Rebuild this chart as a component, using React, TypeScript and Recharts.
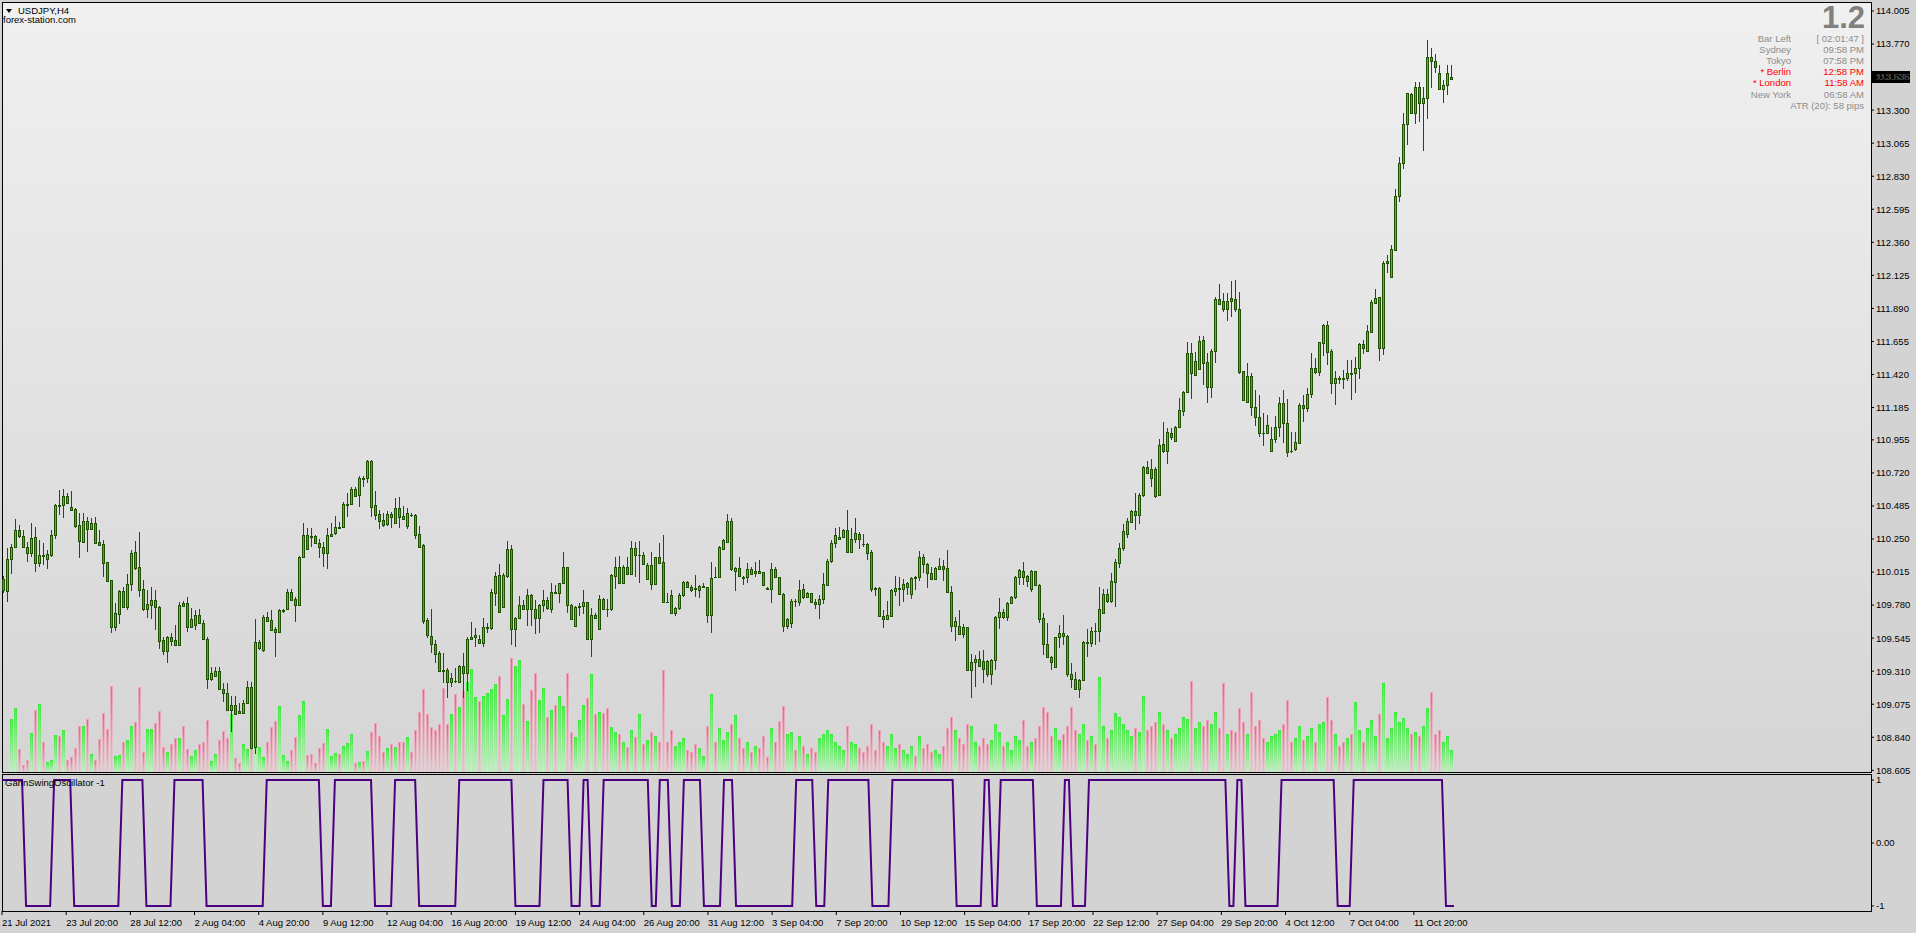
import React from "react";
import { ComposedChart, Bar, Line, XAxis, YAxis, ReferenceLine } from "recharts";

/* ------------------------------------------------------------------ */
/* Data (USDJPY, H4) */
/* ------------------------------------------------------------------ */

const opens = [
  109.966, 109.883, 110.106, 110.191, 110.312, 110.274, 110.191, 110.149, 110.262, 110.078,
  110.134, 110.111, 110.139, 110.277, 110.49, 110.49, 110.556, 110.476, 110.461, 110.348,
  110.229, 110.376, 110.324, 110.362, 110.229, 110.213, 110.085, 109.959, 109.622, 109.715,
  109.878, 109.769, 109.928, 110.158, 110.049, 109.893, 109.75, 109.784, 109.814, 109.765,
  109.532, 109.452, 109.551, 109.532, 109.499, 109.793, 109.793, 109.627, 109.637, 109.708,
  109.651, 109.537, 109.253, 109.279, 109.312, 109.184, 109.153, 109.035, 109.068, 109.028,
  109.016, 109.082, 109.196, 108.769, 109.473, 109.461, 109.698, 109.675, 109.611, 109.592,
  109.738, 109.75, 109.876, 109.824, 109.781, 110.12, 110.279, 110.272, 110.272, 110.219,
  110.196, 110.148, 110.272, 110.29, 110.333, 110.333, 110.49, 110.497, 110.603, 110.561,
  110.682, 110.682, 110.805, 110.49, 110.426, 110.385, 110.357, 110.428, 110.362, 110.468,
  110.414, 110.343, 110.421, 110.421, 110.286, 110.208, 109.674, 109.561, 109.504, 109.442,
  109.319, 109.319, 109.236, 109.241, 109.236, 109.347, 109.3, 109.537, 109.551, 109.539,
  109.513, 109.62, 109.62, 109.869, 109.992, 109.764, 109.987, 110.177, 109.608, 109.686,
  109.781, 109.755, 109.85, 109.75, 109.686, 109.779, 109.817, 109.75, 109.871, 109.864,
  109.94, 110.049, 109.779, 109.632, 109.764, 109.776, 109.8, 109.537, 109.71, 109.608,
  109.821, 109.755, 109.75, 109.987, 110.054, 109.94, 110.049, 109.999, 110.184, 110.136,
  110.136, 109.963, 110.063, 109.928, 110.12, 110.087, 109.805, 109.852, 109.726, 109.757,
  109.852, 109.942, 109.909, 109.899, 109.888, 109.907, 109.907, 109.712, 109.982, 109.978,
  110.181, 110.231, 110.378, 110.025, 110.042, 109.982, 109.978, 110.035, 110.011, 110.025,
  110.013, 109.899, 109.892, 110.035, 109.978, 109.859, 109.632, 109.651, 109.812, 109.805,
  109.892, 109.84, 109.864, 109.802, 109.785, 109.821, 109.923, 110.091, 110.219, 110.248,
  110.262, 110.314, 110.16, 110.248, 110.286, 110.217, 110.217, 110.158, 109.899, 109.899,
  109.705, 109.684, 109.703, 109.883, 109.899, 109.892, 109.906, 109.857, 109.977, 109.977,
  110.12, 110.07, 110.006, 109.963, 110.039, 110.06, 110.041, 109.876, 109.634, 109.631,
  109.622, 109.622, 109.319, 109.373, 109.394, 109.385, 109.385, 109.288, 109.39, 109.693,
  109.733, 109.693, 109.797, 109.835, 109.982, 110.025, 109.987, 109.892, 110.02, 109.923,
  109.686, 109.501, 109.409, 109.338, 109.551, 109.579, 109.56, 109.288, 109.252, 109.184,
  109.247, 109.52, 109.508, 109.598, 109.598, 109.721, 109.857, 109.812, 109.947, 110.082,
  110.184, 110.286, 110.373, 110.447, 110.421, 110.56, 110.76, 110.745, 110.745, 110.56,
  110.925, 110.878, 111.001, 110.949, 111.044, 111.162, 111.298, 111.571, 111.419, 111.457,
  111.666, 111.51, 111.329, 111.585, 111.955, 111.941, 111.889, 111.962, 111.955, 111.884,
  111.443, 111.227, 111.41, 111.187, 111.121, 111.007, 111.007, 110.879, 110.96, 111.05,
  111.216, 111.078, 110.879, 110.891, 110.936, 111.204, 111.18, 111.282, 111.465, 111.441,
  111.647, 111.773, 111.588, 111.358, 111.393, 111.393, 111.393, 111.429, 111.429, 111.465,
  111.635, 111.59, 111.725, 111.931, 111.969, 111.607, 112.211, 112.116, 112.306, 112.69,
  112.922, 113.202, 113.415, 113.277, 113.462, 113.349, 113.384, 113.676, 113.647, 113.567,
  113.448, 113.476, 113.52,
];

const highs = [
  109.987, 110.184, 110.215, 110.39, 110.35, 110.315, 110.232, 110.367, 110.338, 110.243,
  110.22, 110.172, 110.315, 110.499, 110.599, 110.604, 110.575, 110.589, 110.469, 110.433,
  110.433, 110.409, 110.397, 110.405, 110.315, 110.243, 110.089, 109.962, 109.793, 109.888,
  109.907, 110.002, 110.172, 110.236, 110.303, 109.959, 109.888, 109.907, 109.888, 109.774,
  109.556, 109.561, 109.58, 109.639, 109.805, 109.812, 109.836, 109.758, 109.746, 109.75,
  109.675, 109.556, 109.343, 109.343, 109.343, 109.224, 109.224, 109.134, 109.134, 109.082,
  109.106, 109.241, 109.236, 109.679, 109.532, 109.71, 109.734, 109.746, 109.627, 109.75,
  109.75, 109.897, 109.897, 109.84, 110.129, 110.366, 110.326, 110.331, 110.276, 110.248,
  110.231, 110.326, 110.362, 110.414, 110.373, 110.516, 110.575, 110.618, 110.618, 110.698,
  110.698, 110.812, 110.812, 110.594, 110.456, 110.433, 110.452, 110.445, 110.539, 110.551,
  110.485, 110.468, 110.437, 110.428, 110.343, 110.212, 109.686, 109.75, 109.532, 109.456,
  109.442, 109.331, 109.295, 109.331, 109.354, 109.437, 109.556, 109.662, 109.615, 109.568,
  109.686, 109.651, 109.892, 110.018, 110.072, 110.006, 110.236, 110.208, 109.698, 109.845,
  109.817, 109.892, 109.859, 109.817, 109.788, 109.888, 109.836, 109.94, 109.923, 109.94,
  110.16, 110.054, 109.788, 109.774, 109.797, 109.888, 109.805, 109.76, 109.722, 109.852,
  109.828, 109.821, 109.999, 110.12, 110.129, 110.065, 110.12, 110.236, 110.231, 110.238,
  110.16, 110.077, 110.16, 110.125, 110.219, 110.279, 109.864, 109.888, 109.769, 109.864,
  109.954, 109.954, 109.923, 109.994, 109.923, 109.935, 109.911, 110.089, 110.054, 110.2,
  110.248, 110.426, 110.397, 110.054, 110.125, 109.987, 110.082, 110.054, 110.089, 110.101,
  110.018, 109.907, 110.077, 110.049, 109.982, 109.864, 109.686, 109.821, 109.821, 109.959,
  109.93, 109.876, 109.868, 109.821, 109.852, 110.006, 110.105, 110.243, 110.326, 110.338,
  110.319, 110.456, 110.326, 110.397, 110.302, 110.286, 110.224, 110.172, 109.911, 109.906,
  109.745, 109.809, 109.892, 109.987, 109.982, 109.963, 109.947, 109.977, 109.987, 110.167,
  110.141, 110.077, 110.049, 110.049, 110.113, 110.101, 110.172, 109.916, 109.698, 109.745,
  109.646, 109.627, 109.43, 109.425, 109.454, 109.461, 109.39, 109.394, 109.703, 109.833,
  109.75, 109.804, 109.845, 109.987, 110.034, 110.086, 109.994, 110.03, 110.025, 109.93,
  109.721, 109.655, 109.418, 109.556, 109.639, 109.71, 109.568, 109.366, 109.307, 109.252,
  109.527, 109.608, 109.627, 109.65, 109.906, 109.892, 109.892, 110.006, 110.105, 110.219,
  110.357, 110.397, 110.456, 110.579, 110.575, 110.769, 110.807, 110.816, 110.76, 110.963,
  111.082, 111.042, 111.042, 111.053, 111.25, 111.305, 111.652, 111.647, 111.583, 111.694,
  111.694, 111.571, 111.6, 111.974, 112.064, 112.002, 111.998, 112.088, 112.092, 112.009,
  111.448, 111.5, 111.429, 111.31, 111.275, 111.149, 111.133, 111.05, 111.126, 111.263,
  111.31, 111.244, 111.014, 111.014, 111.22, 111.275, 111.322, 111.571, 111.536, 111.654,
  111.78, 111.801, 111.602, 111.448, 111.41, 111.453, 111.524, 111.524, 111.547, 111.642,
  111.666, 111.773, 111.95, 112.026, 111.974, 112.228, 112.27, 112.341, 112.737, 112.969,
  113.277, 113.424, 113.42, 113.503, 113.503, 113.467, 113.799, 113.74, 113.699, 113.621,
  113.514, 113.621, 113.621,
];

const lows = [
  109.864, 109.805, 110.002, 110.184, 110.26, 110.184, 110.089, 110.125, 110.018, 110.049,
  110.066, 110.04, 110.12, 110.248, 110.421, 110.397, 110.499, 110.452, 110.326, 110.118,
  110.224, 110.16, 110.319, 110.22, 110.205, 109.983, 109.947, 109.585, 109.599, 109.646,
  109.758, 109.746, 109.881, 110.03, 109.841, 109.741, 109.686, 109.679, 109.604, 109.466,
  109.426, 109.367, 109.492, 109.49, 109.497, 109.769, 109.592, 109.615, 109.604, 109.646,
  109.532, 109.182, 109.243, 109.272, 109.177, 109.094, 109.03, 108.874, 108.999, 109.011,
  109.006, 109.075, 108.755, 108.722, 109.461, 109.449, 109.663, 109.599, 109.409, 109.587,
  109.726, 109.745, 109.812, 109.663, 109.779, 110.113, 110.172, 110.196, 110.215, 110.113,
  110.049, 110.035, 110.262, 110.279, 110.319, 110.326, 110.409, 110.49, 110.551, 110.475,
  110.618, 110.646, 110.404, 110.385, 110.319, 110.338, 110.343, 110.326, 110.357, 110.326,
  110.385, 110.319, 110.409, 110.248, 110.191, 109.646, 109.544, 109.437, 109.371, 109.307,
  109.224, 109.117, 109.196, 109.224, 109.229, 109.117, 109.172, 109.532, 109.485, 109.504,
  109.48, 109.584, 109.603, 109.774, 109.729, 109.757, 109.971, 109.497, 109.485, 109.679,
  109.75, 109.632, 109.632, 109.575, 109.584, 109.734, 109.745, 109.722, 109.859, 109.793,
  109.935, 109.726, 109.674, 109.627, 109.703, 109.717, 109.532, 109.414, 109.679, 109.603,
  109.745, 109.693, 109.741, 109.892, 109.93, 109.935, 109.994, 109.994, 109.982, 109.94,
  110.065, 109.959, 109.888, 109.923, 110.077, 109.8, 109.793, 109.717, 109.703, 109.745,
  109.84, 109.899, 109.876, 109.84, 109.833, 109.899, 109.651, 109.584, 109.971, 109.971,
  110.172, 110.224, 110.025, 109.883, 109.982, 109.923, 109.935, 109.997, 109.982, 110.001,
  109.916, 109.888, 109.798, 109.971, 109.852, 109.591, 109.608, 109.615, 109.764, 109.774,
  109.821, 109.828, 109.797, 109.75, 109.684, 109.785, 109.916, 110.077, 110.184, 110.243,
  110.255, 110.148, 110.155, 110.224, 110.177, 110.195, 110.101, 109.876, 109.845, 109.698,
  109.62, 109.679, 109.698, 109.845, 109.774, 109.804, 109.852, 109.821, 109.887, 109.954,
  110.011, 109.899, 109.959, 109.959, 110.034, 109.954, 109.868, 109.591, 109.527, 109.567,
  109.544, 109.314, 109.117, 109.2, 109.342, 109.224, 109.271, 109.209, 109.319, 109.608,
  109.679, 109.669, 109.793, 109.821, 109.923, 109.923, 109.911, 109.876, 109.916, 109.655,
  109.425, 109.402, 109.319, 109.333, 109.477, 109.496, 109.266, 109.188, 109.176, 109.117,
  109.243, 109.413, 109.48, 109.496, 109.52, 109.717, 109.797, 109.797, 109.764, 110.046,
  110.167, 110.259, 110.366, 110.314, 110.357, 110.551, 110.717, 110.622, 110.544, 110.556,
  110.864, 110.783, 110.954, 110.942, 111.037, 111.125, 111.291, 111.244, 111.417, 111.453,
  111.346, 111.216, 111.251, 111.505, 111.915, 111.867, 111.803, 111.827, 111.867, 111.422,
  111.235, 111.22, 111.126, 111.054, 110.974, 110.912, 110.998, 110.872, 110.936, 110.974,
  110.931, 110.832, 110.86, 110.879, 110.931, 111.085, 111.156, 111.251, 111.424, 111.41,
  111.552, 111.488, 111.282, 111.204, 111.353, 111.315, 111.377, 111.235, 111.291, 111.389,
  111.566, 111.583, 111.718, 111.922, 111.519, 111.559, 112.145, 112.111, 112.301, 112.649,
  112.879, 113.052, 113.273, 113.202, 113.218, 113.012, 113.237, 113.455, 113.567, 113.443,
  113.353, 113.408, 113.515,
];

const closes = [
  109.888, 110.106, 110.191, 110.312, 110.274, 110.191, 110.149, 110.255, 110.078, 110.134,
  110.131, 110.144, 110.277, 110.49, 110.488, 110.556, 110.509, 110.459, 110.345, 110.234,
  110.376, 110.324, 110.362, 110.224, 110.21, 110.078, 109.954, 109.627, 109.722, 109.878,
  109.769, 109.928, 110.149, 110.044, 109.888, 109.75, 109.786, 109.814, 109.765, 109.528,
  109.452, 109.551, 109.528, 109.499, 109.779, 109.776, 109.622, 109.679, 109.708, 109.656,
  109.537, 109.253, 109.295, 109.312, 109.182, 109.153, 109.035, 109.07, 109.004, 109.016,
  109.085, 109.196, 108.762, 109.52, 109.52, 109.698, 109.67, 109.604, 109.592, 109.746,
  109.745, 109.876, 109.817, 109.781, 110.125, 110.279, 110.177, 110.267, 110.219, 110.196,
  110.148, 110.279, 110.286, 110.333, 110.331, 110.499, 110.497, 110.603, 110.556, 110.682,
  110.679, 110.805, 110.48, 110.418, 110.381, 110.352, 110.428, 110.409, 110.468, 110.409,
  110.39, 110.433, 110.418, 110.281, 110.196, 109.67, 109.568, 109.501, 109.433, 109.314,
  109.314, 109.236, 109.26, 109.239, 109.347, 109.3, 109.539, 109.551, 109.568, 109.513,
  109.622, 109.622, 109.871, 109.987, 109.734, 109.992, 110.177, 109.608, 109.686, 109.781,
  109.755, 109.85, 109.75, 109.686, 109.779, 109.817, 109.757, 109.871, 109.869, 109.935,
  110.049, 109.781, 109.679, 109.764, 109.774, 109.8, 109.537, 109.71, 109.686, 109.821,
  109.75, 109.753, 109.992, 110.054, 109.935, 110.049, 109.999, 110.184, 110.134, 110.138,
  110.072, 110.063, 109.928, 110.12, 110.082, 109.805, 109.802, 109.726, 109.757, 109.852,
  109.942, 109.907, 109.888, 109.897, 109.916, 109.916, 109.712, 109.973, 109.98, 110.191,
  110.243, 110.378, 110.035, 110.042, 109.987, 109.971, 110.035, 110.001, 110.025, 110.011,
  109.921, 109.897, 110.035, 109.978, 109.859, 109.632, 109.679, 109.812, 109.809, 109.888,
  109.84, 109.864, 109.804, 109.785, 109.821, 109.93, 110.096, 110.219, 110.278, 110.262,
  110.314, 110.16, 110.248, 110.29, 110.252, 110.214, 110.153, 109.892, 109.897, 109.703,
  109.679, 109.707, 109.887, 109.899, 109.897, 109.928, 109.94, 109.97, 109.975, 110.12,
  110.07, 110.006, 109.963, 110.041, 110.06, 110.039, 109.876, 109.634, 109.665, 109.572,
  109.572, 109.319, 109.378, 109.394, 109.347, 109.323, 109.288, 109.39, 109.693, 109.733,
  109.693, 109.797, 109.835, 109.982, 110.03, 109.982, 109.954, 110.02, 109.921, 109.684,
  109.501, 109.409, 109.373, 109.551, 109.579, 109.56, 109.288, 109.252, 109.181, 109.247,
  109.52, 109.508, 109.598, 109.596, 109.75, 109.857, 109.812, 109.951, 110.086, 110.184,
  110.304, 110.38, 110.447, 110.421, 110.56, 110.76, 110.722, 110.681, 110.556, 110.918,
  110.878, 111.008, 110.978, 111.044, 111.167, 111.295, 111.571, 111.429, 111.514, 111.656,
  111.505, 111.329, 111.585, 111.955, 111.922, 111.889, 111.941, 111.941, 111.884, 111.441,
  111.239, 111.41, 111.187, 111.121, 111.002, 111.005, 111.059, 110.96, 111.05, 111.216,
  111.073, 110.872, 110.877, 110.938, 111.204, 111.18, 111.282, 111.465, 111.441, 111.649,
  111.773, 111.583, 111.358, 111.393, 111.391, 111.391, 111.429, 111.427, 111.465, 111.635,
  111.607, 111.73, 111.938, 111.967, 111.607, 112.211, 112.228, 112.311, 112.69, 112.922,
  113.202, 113.42, 113.277, 113.462, 113.349, 113.384, 113.676, 113.647, 113.609, 113.448,
  113.476, 113.562, 113.535,
];

// tick volume drawn at the foot of the price window
const volumes: (number | null)[] = [
  null, null, 5270, 6400, 2270, 730, 1170, 3870, 6170, 6770,
  3000, 1000, 1170, 3670, 3570, 4170, 1170, 1470, 2400, 4570,
  4570, 5270, 1770, 1170, 3270, 5870, 4330, 8570, 1570, 1670,
  3000, 3170, 4570, 5000, 8470, 2000, 4270, 4330, 4870, 6070,
  2470, 2000, 2770, 3370, 3370, 4570, 2330, 1570, 2170, 2770,
  2970, 5170, 1070, 1770, 3170, 4070, 3370, 5770, 1370, 870,
  2770, 2330, 4430, 9830, 2470, 1470, 2970, 4470, 5070, 6570,
  1670, 1070, 2170, 3470, 5670, 7070, 1670, 1770, 870, 2370,
  2870, 4270, 1570, 1870, 1770, 2570, 2870, 3770, 870, 970,
  1070, 2070, 3970, 4870, 3570, 1970, 2370, 2770, 2470, 2970,
  3000, 3500, 2000, 4200, 6000, 8300, 5800, 4500, 4200, 4800,
  8400, 4800, 5800, 7800, 6500, 8100, 9000, 10300, 7500, 7100,
  7600, 7900, 8300, 8800, 9600, 5700, 7300, 11400, 10600, 11200,
  6800, 5100, 8200, 9900, 7200, 8400, 5500, 6200, 6700, 7600,
  6600, 9900, 4000, 3500, 5200, 6700, 7400, 9800, 5800, 6000,
  5900, 6400, 4500, 4000, 3800, 3000, 2500, 4200, 3500, 5800,
  2800, 3200, 4000, 3600, 3000, 10200, 3000, 4200, 2600, 3000,
  3400, 2200, 2000, 2800, 2400, 1600, 4600, 7800, 3000, 4400,
  3200, 4000, 4800, 5700, 3400, 2400, 3000, 2000, 2600, 2400,
  3600, 1500, 4400, 3000, 5100, 6600, 3800, 4000, 2200, 3600,
  2600, 1800, 2400, 2000, 3400, 3800, 4200, 3800, 3000, 2600,
  2200, 4600, 3000, 2800, 2400, 2000, 2600, 4800, 2200, 4200,
  3000, 2600, 3800, 2400, 2800, 2200, 1800, 2600, 1600, 3600,
  2400, 2800, 2000, 2200, 1800, 2600, 4400, 5500, 4200, 3400,
  2800, 4800, 4600, 3000, 2600, 3400, 2800, 3200, 4800, 4000,
  2600, 3000, 2200, 3600, 3200, 5200, 2600, 3000, 3400, 4600,
  6500, 6000, 3600, 4400, 3200, 3800, 4600, 6500, 4200, 3800,
  4800, 3200, 3600, 2800, 9500, 4600, 3400, 4200, 5900, 5500,
  4800, 4200, 3600, 4400, 4000, 7600, 4200, 4600, 5000, 6000,
  4800, 4200, 3400, 3800, 4400, 5500, 5300, 9100, 4400, 5000,
  4600, 5200, 4800, 6000, 4400, 8900, 3800, 4200, 4000, 6400,
  5000, 3800, 8000, 4600, 5200, 3400, 3000, 3600, 3800, 4200,
  4800, 7200, 3000, 3400, 4600, 3200, 3600, 4400, 3000, 4800,
  5000, 7500, 5200, 3800, 2600, 3000, 3400, 3800, 7000, 4200,
  3000, 4400, 5200, 3600, 5800, 8900, 3400, 4400, 6000, 5000,
  5400, 4400, 3800, 4000, 3600, 4600, 6400, 8000, 3800, 4200,
  3000, 3600, 2200,
];

// Gann swing oscillator, as runs of [value, bars]
const oscRuns: [number, number][] = [
  [1, 6], [-1, 7], [1, 5], [-1, 12], [1, 6], [-1, 7], [1, 8], [-1, 15],
  [1, 14], [-1, 3], [1, 10], [-1, 5], [1, 6], [-1, 10], [1, 14], [-1, 7],
  [1, 7], [-1, 3], [1, 2], [-1, 3], [1, 12], [-1, 2], [1, 3], [-1, 3],
  [1, 5], [-1, 5], [1, 3], [-1, 15], [1, 5], [-1, 3], [1, 11], [-1, 5],
  [1, 16], [-1, 7], [1, 2], [-1, 2], [1, 9], [-1, 7], [1, 2], [-1, 4],
  [1, 35], [-1, 2], [1, 2], [-1, 9], [1, 14], [-1, 4], [1, 23], [-1, 3],
];

const timeTicks = [0, 16, 32, 48, 64, 80, 96, 112, 128, 144, 160, 176, 192, 208, 224, 240, 256, 272, 288, 304, 320, 336, 352];
const timeLabels = [
  "21 Jul 2021", "23 Jul 20:00", "28 Jul 12:00", "2 Aug 04:00", "4 Aug 20:00", "9 Aug 12:00",
  "12 Aug 04:00", "16 Aug 20:00", "19 Aug 12:00", "24 Aug 04:00", "26 Aug 20:00", "31 Aug 12:00",
  "3 Sep 04:00", "7 Sep 20:00", "10 Sep 12:00", "15 Sep 04:00", "17 Sep 20:00", "22 Sep 12:00",
  "27 Sep 04:00", "29 Sep 20:00", "4 Oct 12:00", "7 Oct 04:00", "11 Oct 20:00",
];

const priceTicks = [
  114.005, 113.77, 113.535, 113.3, 113.065, 112.83, 112.595, 112.36, 112.125, 111.89, 111.655, 111.42,
  111.185, 110.955, 110.72, 110.485, 110.25, 110.015, 109.78, 109.545, 109.31, 109.075, 108.84, 108.605,
];
const oscTicks = [1, 0, -1];
const lastPrice = 113.535;

const sessionNames = ["Bar Left", "Sydney", "Tokyo", "* Berlin", "* London", "New York"];
const sessionTimes = ["[ 02:01:47 ]", "09:58 PM", "07:58 PM", "12:58 PM", "11:58 AM", "06:58 AM"];
const sessionOpen = [false, false, false, true, true, false];

/* ------------------------------------------------------------------ */
/* Look */
/* ------------------------------------------------------------------ */

const FONT = '"Liberation Sans", Arial, sans-serif';
const WICK = "#1F5200";
const BULL = "#38C838";
const BEAR = "#D2603A";
const OSC = "#4B0082";
const BAR_PX = 4;
const PLOT_W = 1869;
const PAD_RIGHT = PLOT_W - BAR_PX * opens.length;

const oscValues: number[] = oscRuns.flatMap(([v, n]) => Array(n).fill(v));

const rows = opens.map((o, i) => ({
  i,
  o,
  h: highs[i],
  l: lows[i],
  c: closes[i],
  range: [lows[i], highs[i]],
  vol: volumes[i] ?? null,
  osc: oscValues[i],
}));

/* ------------------------------------------------------------------ */
/* Shapes */
/* ------------------------------------------------------------------ */

const Candle = (props: any) => {
  const { x, y, width, height, payload } = props;
  if (x == null || y == null) return null;
  const { o, h, l, c } = payload;
  const cx = Math.round(x + width / 2);
  const k = h > l ? height / (h - l) : 0;
  const yO = y + (h - o) * k;
  const yC = y + (h - c) * k;
  const top = Math.round(Math.min(yO, yC));
  let bot = Math.round(Math.max(yO, yC));
  if (bot < top) bot = top;
  const wTop = Math.round(y);
  const wBot = Math.max(wTop + 1, Math.round(y + height));
  return (
    <g shapeRendering="crispEdges">
      <rect x={cx - 1} y={wTop} width={1} height={wBot - wTop} fill={WICK} />
      <rect x={cx - 2} y={top} width={3} height={bot - top + 1} fill={WICK} />
      {bot - top >= 2 && (
        <rect x={cx - 1} y={top + 1} width={1} height={bot - top - 1} fill={c >= o ? BULL : BEAR} />
      )}
    </g>
  );
};

const Volume = (props: any) => {
  const { x, y, width, height, payload } = props;
  if (x == null || !height || height <= 0) return null;
  const cx = Math.round(x + width / 2);
  const up = payload.c >= payload.o;
  const yy = Math.round(y);
  const hh = Math.round(y + height) - yy;
  return (
    <g shapeRendering="crispEdges">
      <rect x={cx - 2} y={yy} width={3} height={hh} fill={up ? "url(#volUpEdge)" : "url(#volDnEdge)"} />
      <rect x={cx - 1} y={yy + 1} width={1} height={Math.max(0, hh - 1)} fill={up ? "url(#volUpCore)" : "url(#volDnCore)"} />
    </g>
  );
};

const PriceTag = (props: any) => {
  const vb = props.viewBox || {};
  const x = Math.round((vb.x ?? 0) + (vb.width ?? 0));
  const y = Math.round(vb.y ?? 0);
  return (
    <g>
      <rect x={x} y={y - 6} width={39} height={12} fill="#000" />
      <text x={x + 5} y={y} dy="0.355em" fill="#fff" fontSize={9.5} fontFamily={FONT}>
        {lastPrice.toFixed(3)}
      </text>
    </g>
  );
};

const TimeTick = (props: any) => {
  const { x, y, payload } = props;
  const idx = timeTicks.indexOf(payload.value);
  if (idx < 0) return null;
  return (
    <text x={x} y={y} dy="0.71em" textAnchor="start" fill="#000" fontSize={9.5} fontFamily={FONT}>
      {timeLabels[idx]}
    </text>
  );
};

/* ------------------------------------------------------------------ */
/* Chart */
/* ------------------------------------------------------------------ */

const abs = (l: number, t: number): React.CSSProperties => ({ position: "absolute", left: l, top: t });

const App = () => {
  return (
    <div
      style={{
        position: "absolute",
        left: 0,
        top: 0,
        width: 1916,
        height: 933,
        background: "#D3D3D3",
        overflow: "hidden",
        fontFamily: FONT,
        fontSize: 9.5,
      }}
    >
      <svg width={0} height={0} style={{ position: "absolute" }}>
        <defs>
          <linearGradient id="volUpEdge" x1="0" y1="0" x2="0" y2="1">
            <stop offset="0%" stopColor="#3BEA3B" />
            <stop offset="100%" stopColor="#C6EAC6" />
          </linearGradient>
          <linearGradient id="volUpCore" x1="0" y1="0" x2="0" y2="1">
            <stop offset="0%" stopColor="#6FD39A" />
            <stop offset="100%" stopColor="#D3E6D8" />
          </linearGradient>
          <linearGradient id="volDnEdge" x1="0" y1="0" x2="0" y2="1">
            <stop offset="0%" stopColor="#EBA2B6" />
            <stop offset="100%" stopColor="#E2D0D5" />
          </linearGradient>
          <linearGradient id="volDnCore" x1="0" y1="0" x2="0" y2="1">
            <stop offset="0%" stopColor="#EC5C92" />
            <stop offset="100%" stopColor="#E6C4CF" />
          </linearGradient>
        </defs>
      </svg>

      {/* price window */}
      <div
        style={{
          ...abs(2, 2),
          width: 1870,
          height: 771,
          boxSizing: "border-box",
          border: "1px solid #000",
          background: "linear-gradient(#F0F0F0, #D5D5D5)",
        }}
      />
      {/* oscillator window */}
      <div
        style={{
          ...abs(2, 774),
          width: 1870,
          height: 138,
          boxSizing: "border-box",
          border: "1px solid #000",
          background: "#D3D3D3",
        }}
      />

      <div style={{ ...abs(0, 0) }}>
        <ComposedChart
          width={1916}
          height={781}
          data={rows}
          margin={{ top: 2, right: 0, bottom: 9, left: 2 }}
          barCategoryGap={0}
          barGap={0}
        >
          <XAxis xAxisId="c" dataKey="i" type="category" hide padding={{ left: 0, right: PAD_RIGHT }} />
          <XAxis xAxisId="v" dataKey="i" type="category" hide padding={{ left: 0, right: PAD_RIGHT }} />
          <YAxis
            yAxisId="p"
            orientation="right"
            width={45}
            type="number"
            domain={[108.593, 114.069]}
            allowDataOverflow
            ticks={priceTicks}
            interval={0}
            tickFormatter={(v: number) => v.toFixed(3)}
            axisLine={false}
            tickSize={3}
            tickMargin={2}
            tickLine={{ stroke: "#000" }}
            tick={{ fill: "#000", fontSize: 9.5, fontFamily: FONT }}
          />
          <YAxis yAxisId="v" hide type="number" domain={[0, 77000]} allowDataOverflow />
          <Bar xAxisId="v" yAxisId="v" dataKey="vol" shape={<Volume />} isAnimationActive={false} />
          <Bar xAxisId="c" yAxisId="p" dataKey="range" shape={<Candle />} isAnimationActive={false} />
          <ReferenceLine
            xAxisId="c"
            yAxisId="p"
            y={lastPrice}
            stroke="none"
            ifOverflow="visible"
            label={<PriceTag />}
          />
        </ComposedChart>
      </div>

      <div style={{ ...abs(0, 774) }}>
        <ComposedChart width={1916} height={159} data={rows} margin={{ top: 1, right: 0, bottom: 0, left: 2 }}>
          <XAxis
            dataKey="i"
            type="category"
            ticks={timeTicks}
            interval={0}
            padding={{ left: 0, right: PAD_RIGHT }}
            height={22}
            axisLine={false}
            tickSize={4}
            tickMargin={4}
            tickLine={{ stroke: "#000" }}
            tick={<TimeTick />}
          />
          <YAxis
            orientation="right"
            width={45}
            type="number"
            domain={[-1.08, 1.08]}
            allowDataOverflow
            ticks={oscTicks}
            interval={0}
            tickFormatter={(v: number) => (v === 0 ? "0.00" : String(v))}
            axisLine={false}
            tickSize={3}
            tickMargin={2}
            tickLine={{ stroke: "#000" }}
            tick={{ fill: "#000", fontSize: 9.5, fontFamily: FONT }}
          />
          <Line
            dataKey="osc"
            type="linear"
            stroke={OSC}
            strokeWidth={2}
            dot={false}
            isAnimationActive={false}
          />
        </ComposedChart>
      </div>

      {/* texts */}
      <div
        style={{
          ...abs(6, 9),
          width: 0,
          height: 0,
          borderLeft: "3.5px solid transparent",
          borderRight: "3.5px solid transparent",
          borderTop: "4px solid #000",
        }}
      />
      <div style={{ ...abs(18, 5), lineHeight: "11px", color: "#000" }}>USDJPY,H4</div>
      <div style={{ ...abs(3, 14), lineHeight: "11px", color: "#000" }}>forex-station.com</div>
      <div style={{ ...abs(5, 777), lineHeight: "11px", color: "#000" }}>GannSwingOscillator -1</div>

      <div
        style={{
          position: "absolute",
          right: 1916 - 1865,
          top: 1,
          fontSize: 31,
          fontWeight: "bold",
          color: "#808080",
          lineHeight: "34px",
        }}
      >
        1.2
      </div>
      {sessionNames.map((n, k) => (
        <React.Fragment key={n}>
          <div
            style={{
              position: "absolute",
              right: 1916 - 1791,
              top: 33 + k * 11.1,
              lineHeight: "11px",
              color: sessionOpen[k] ? "#FF0000" : "#8C8C8C",
              whiteSpace: "nowrap",
            }}
          >
            {n}
          </div>
          <div
            style={{
              position: "absolute",
              right: 1916 - 1864,
              top: 33 + k * 11.1,
              lineHeight: "11px",
              color: sessionOpen[k] ? "#FF0000" : "#8C8C8C",
              whiteSpace: "nowrap",
            }}
          >
            {sessionTimes[k]}
          </div>
        </React.Fragment>
      ))}
      <div
        style={{
          position: "absolute",
          right: 1916 - 1864,
          top: 33 + 6 * 11.1,
          lineHeight: "11px",
          color: "#8C8C8C",
          whiteSpace: "nowrap",
        }}
      >
        ATR (20): 58 pips
      </div>
    </div>
  );
};

export default App;
